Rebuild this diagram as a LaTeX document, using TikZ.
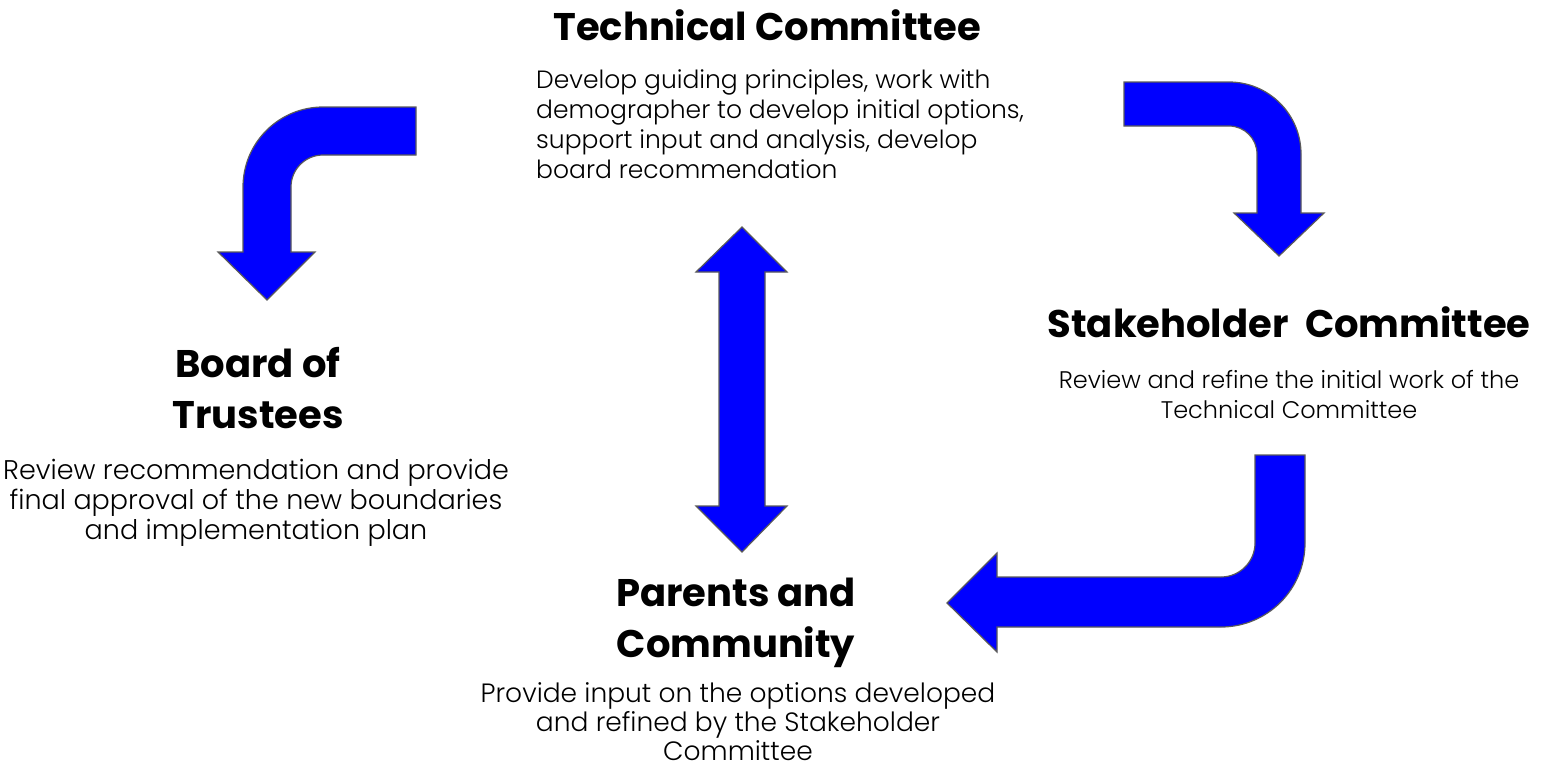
\documentclass[tikz,border=0pt]{standalone}
\usepackage{fontspec}
\setmainfont{Poppins}
\newfontfamily\thinfont{Poppins Light}
\usepackage{tikz}
\definecolor{arrowblue}{RGB}{0,0,255}
\definecolor{arrowedge}{RGB}{90,90,90}

\begin{document}
\begin{tikzpicture}[x=1pt, y=-1pt,
		blockarrow/.style={fill=arrowblue, draw=arrowedge, line width=1.2pt},
		headtext/.style={font=\fontsize{38.5}{51}\selectfont\bfseries, align=center, inner sep=0pt},
		bodytext/.style={font=\thinfont\fontsize{27}{30}\selectfont, align=center, inner sep=0pt}]
		%%%%% START %%%%%
		\useasboundingbox (0,0) rectangle (1566,771);
		
		% technical committee
		\node[headtext, anchor=base] (techhead) at (767, 40) {Technical Committee};
		\node[bodytext, font=\thinfont\fontsize{25}{30}\selectfont, align=left, anchor=north west] (techbody) at (536, 69) {Develop guiding principles, work with\\demographer to develop initial options,\\support input and analysis, develop\\board recommendation};
		
		% stakeholder committee
		\node[headtext, anchor=base] (stakehead) at (1289, 337) {Stakeholder\ \ Committee};
		\node[bodytext, font=\thinfont\fontsize{24}{30}\selectfont, anchor=north] (stakebody) at (1289, 370) {Review and refine the initial work of the\\Technical Committee};
		
		% board of trustees
		\node[headtext, anchor=north] (boardhead) at (258, 347) {Board of\\Trustees};
		\node[bodytext, anchor=north] (boardbody) at (256, 459) {Review recommendation and provide\\final approval of the new boundaries\\and implementation plan};
		
		% parents and community
		\node[headtext, anchor=north] (parenthead) at (736, 578) {Parents and\\Community};
		\node[bodytext, font=\thinfont\fontsize{26.5}{29}\selectfont, anchor=north] (parentbody) at (738, 682) {Provide input on the options developed\\and refined by the Stakeholder\\Committee};
		
		% technical -> board
		\draw[blockarrow] (416, 107) -- (323, 107) arc (270:180:80) -- (243, 252) -- (218, 252) -- (267, 300) -- (315, 252) -- (291, 252) -- (291, 187) arc (180:270:32) -- (416, 155) -- cycle;
		
		% technical -> stakeholder
		\draw[blockarrow] (1124, 82) -- (1229, 82) arc (270:360:72) -- (1301, 213) -- (1324, 213) -- (1279, 256) -- (1234, 213) -- (1257, 213) -- (1257, 154) arc (0:-90:28) -- (1124, 126) -- cycle;
		
		% stakeholder -> parents
		\draw[blockarrow] (1255, 455) -- (1305, 455) -- (1305, 543) arc (0:90:84) -- (997, 627) -- (997, 652) -- (947, 603) -- (997, 553) -- (997, 577) -- (1221, 577) arc (90:0:34) -- cycle;
		
		% technical <-> parents
		\draw[blockarrow] (742, 227) -- (787, 272) -- (765, 272) -- (765, 506) -- (787, 506) -- (742, 552) -- (696, 506) -- (719, 506) -- (719, 272) -- (696, 272) -- cycle;
		%%%%% END %%%%%
\end{tikzpicture}
\end{document}
